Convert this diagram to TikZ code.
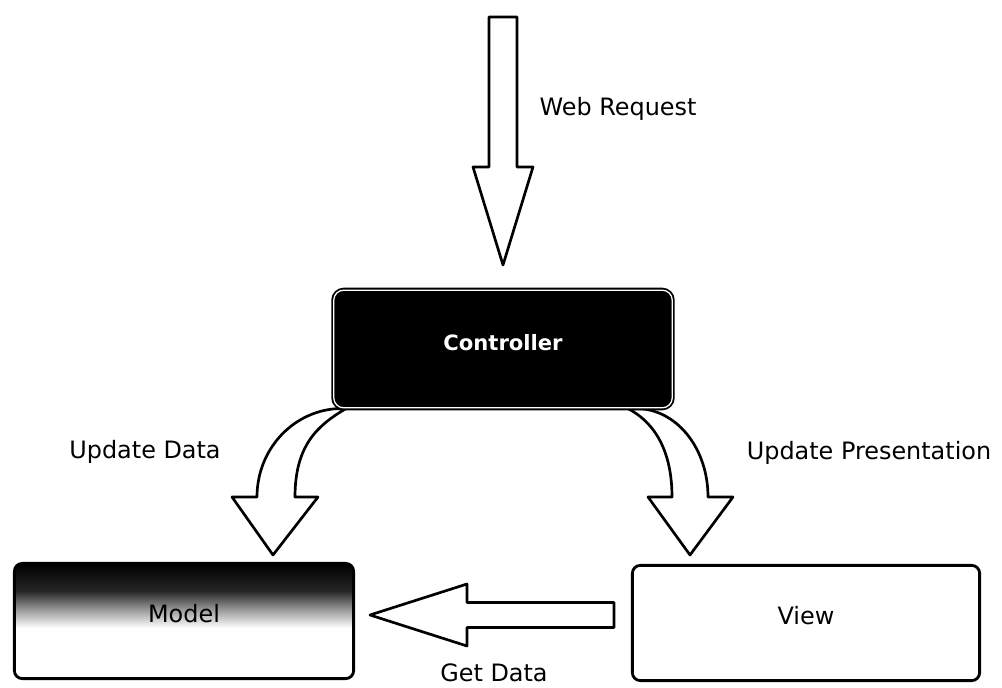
\documentclass[tikz,border=0pt]{standalone}
\usepackage{fontspec}
\setmainfont{DejaVu Sans}
\usetikzlibrary{positioning,calc,backgrounds}

\pgfdeclareverticalshading{modelfade}{100bp}{color(0bp)=(white); color(47bp)=(white); color(55bp)=(black!40); color(63bp)=(black!85); color(75bp)=(black); color(100bp)=(black)}

\begin{document}
\begin{tikzpicture}[x=0.025cm,y=-0.025cm,
    box/.style={rectangle,draw,line width=2pt,rounded corners=0.2cm,minimum height=2.88cm,
        text height=12.9pt,text depth=10.5pt,font=\fontsize{17}{20}\selectfont},
    block/.style={draw,line width=1.9pt,fill=white,line join=round},
    lbl/.style={font=\fontsize{17}{20}\selectfont}]
    \useasboundingbox (0,0) rectangle (1002,688);
    \node[box,fill=black,line width=1.3pt,double=white,double distance=0.9pt,rounded corners=0.25cm,
        minimum width=8.46cm,minimum height=2.94cm,text=white,text height=11.5pt,text depth=9pt,
        font=\fontsize{15}{18}\selectfont\bfseries] (ctrl) at (503,349) {Controller};
    \node[box,shade,shading=modelfade,minimum width=8.48cm] (model) at (184,621) {Model};
    \node[box,minimum width=8.68cm] (view) at (806,623) {View};
    \coordinate (req) at (503,17);
    \coordinate (gd) at (614,615);
    % block arrows
    \begin{pgfonlayer}{background}
    \draw[block,shift={(req)}] (-14,0) -- (14,0) -- (14,150) -- (30,150) -- (0,248) -- (-30,150) -- (-14,150) -- cycle;
    \draw[block] ($(ctrl.south west)+(3,0)$) .. controls (292,412) and (257,450) .. (257,497)
        -- (232,497) -- (273,555) -- (318,497) -- (295,497)
        .. controls (295,445) and (318,425) .. ($(ctrl.south west)+(13,0)$) -- cycle;
    \draw[block] ($(ctrl.south east)+(-45,0)$) .. controls (650,420) and (672,445) .. (672,497)
        -- (648,497) -- (690,555) -- (733,497) -- (708,497)
        .. controls (708,450) and (679,412) .. ($(ctrl.south east)+(-32,0)$) -- cycle;
    \end{pgfonlayer}
    \draw[block,shift={(gd)}] (0,-12.5) -- (-147,-12.5) -- (-147,-31) -- (-244,0) -- (-147,31) -- (-147,12.5) -- (0,12.5) -- cycle;
    \node[lbl] (webreq) at (618,109) {Web Request};
    \node[lbl] (upddata) at (145,452) {Update Data};
    \node[lbl] (updpres) at (869,453) {Update Presentation};
    \node[lbl,inner sep=1pt] (getdata) at (494,673) {Get Data};
\end{tikzpicture}
\end{document}
